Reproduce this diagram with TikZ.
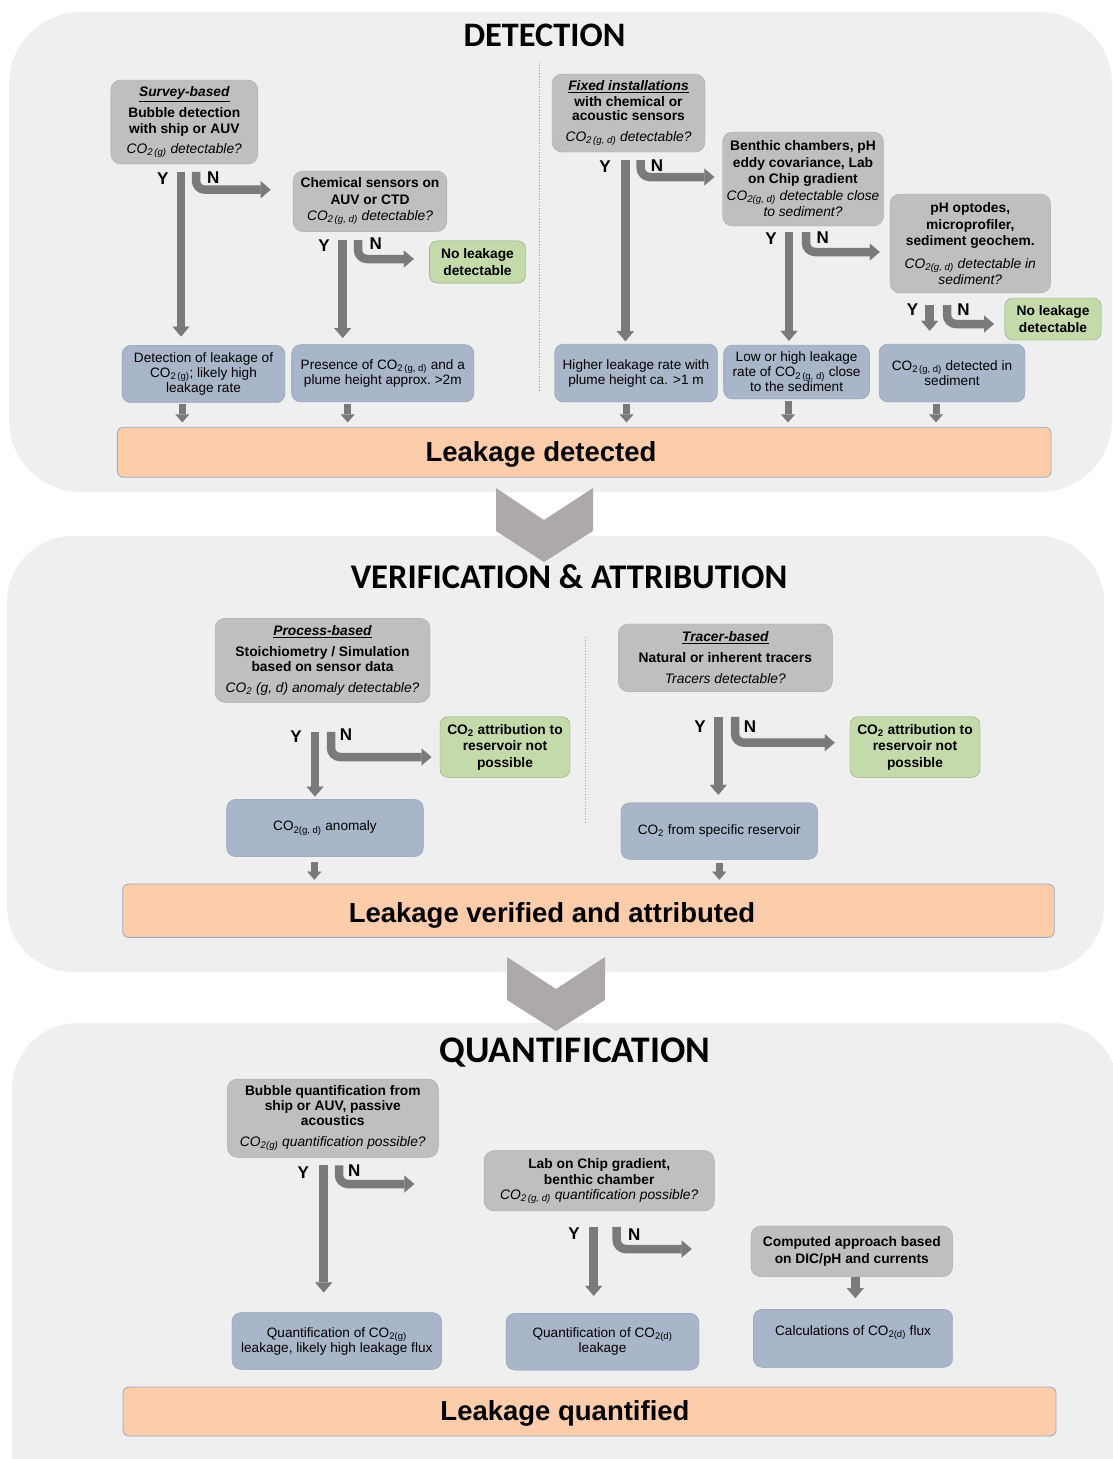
\documentclass[tikz,border=0pt]{standalone}
\usepackage{fontspec}
\setmainfont{Liberation Sans}
\newfontfamily\titlefont{Carlito}
\usetikzlibrary{arrows.meta}
\usetikzlibrary{calc}
\usetikzlibrary{positioning}

\definecolor{panelgray}{HTML}{EFEFEF}
\definecolor{askfill}{HTML}{BFBFBF}
\definecolor{askline}{HTML}{ABABAB}
\definecolor{resfill}{HTML}{A9B6C9}
\definecolor{resline}{HTML}{8D9DB3}
\definecolor{nofill}{HTML}{C4DAAB}
\definecolor{noline}{HTML}{8BA572}
\definecolor{endfill}{HTML}{FDCCAA}
\definecolor{endline}{HTML}{9AAAC0}
\definecolor{arrowgray}{HTML}{7A7A7A}
\definecolor{chevgray}{HTML}{AEA9A9}
\definecolor{dotgray}{HTML}{9A9A9A}

\newcommand{\cosub}[1]{CO\textsubscript{2\,#1}}
\newcommand{\kind}[1]{\underline{\itshape #1}}
\newcommand{\asktext}[1]{{\mdseries\itshape #1}}

\tikzset{
  ask/.style={draw=askline,fill=askfill,rounded corners=10pt,align=center,inner sep=2pt,
    font=\fontsize{13.8}{15.5}\selectfont\bfseries},
  result/.style={draw=resline,fill=resfill,rounded corners=9pt,align=center,inner sep=2pt,
    font=\fontsize{13.6}{15}\selectfont},
  nolk/.style={draw=noline,fill=nofill,rounded corners=8pt,align=center,inner sep=2pt,
    font=\fontsize{13.8}{16.5}\selectfont\bfseries},
  outcome/.style={draw=endline,fill=endfill,rounded corners=6pt,line width=0.8pt},
  outtext/.style={anchor=base,font=\fontsize{27.5}{30}\selectfont\bfseries},
  heading/.style={font=\titlefont\fontsize{#1}{36}\selectfont\bfseries},
  yn/.style={font=\fontsize{17}{17}\selectfont\bfseries},
  yesarrow/.style={draw=arrowgray,line width=8.5pt,
    -{Triangle[length=10pt,width=17pt,line width=0.01pt]}},
  noarrow/.style={yesarrow,rounded corners=9pt},
  droparrow/.style={draw=arrowgray,line width=7pt,
    -{Triangle[length=8pt,width=14pt,line width=0.01pt]}},
  divider/.style={draw=dotgray,dotted,line width=0.8pt}
}

\begin{document}
\begin{tikzpicture}[x=1pt,y=-1pt]
  \useasboundingbox (0,0) rectangle (1113,1459);

  % stage panels and chevrons
  \fill[panelgray,rounded corners=72pt] (9,12) rectangle (1112,492);
  \fill[panelgray,rounded corners=66pt] (7,536) rectangle (1104,972);
  \fill[panelgray,rounded corners=66pt] (12,1023) rectangle (1118,1540);
  \fill[chevgray] (496,488) -- (544,520) -- (593,488) -- (593,531) -- (544,562) -- (496,531) -- cycle;
  \fill[chevgray] (507,957) -- (556,989) -- (605,957) -- (605,1000) -- (556,1031) -- (507,1000) -- cycle;

  \node[heading=34.3] (detect) at (544.5,35) {DETECTION};
  \node[heading=34.6] (verify) at (569,577) {VERIFICATION \& ATTRIBUTION};
  \node[heading=37.5] (quantify) at (575,1053) {QUANTIFICATION};

  \draw[divider] (539,62) -- (539,391);
  \draw[divider] (585,637) -- (585,822);

  % detection
  \node[ask,minimum width=147pt,minimum height=84pt] (survey) at (184.3,122)
    {\kind{Survey-based}\\[5.5pt] Bubble detection\\ with ship or AUV\\[4.5pt]
     \asktext{\cosub{(g)} detectable?}};
  \node[ask,minimum width=153.7pt,minimum height=60.7pt] (chem) at (370,201.3)
    {Chemical sensors on\\[1.5pt] AUV or CTD\\[0.5pt] \asktext{\cosub{(g, d)} detectable?}};
  \node[nolk,minimum width=96.4pt,minimum height=42.3pt] (none1) at (477.5,262)
    {No leakage\\ detectable};
  \node[result,minimum width=163pt,minimum height=57.4pt] (det1) at (203.5,374)
    {Detection of leakage of\\ \cosub{(g)}; likely high\\ leakage rate};
  \node[result,minimum width=182.3pt,minimum height=57.3pt] (det2) at (382.8,373.3)
    {Presence of \cosub{(g, d)} and a\\ plume height approx.\ >2m};

  \node[ask,minimum width=153pt,minimum height=78pt] (fixed) at (628.5,113)
    {\kind{Fixed installations}\\ with chemical or\\[-1pt] acoustic sensors\\[5pt]
     \asktext{\cosub{(g, d)} detectable?}};
  \node[ask,minimum width=161pt,minimum height=94pt] (benthic) at (803,179)
    {Benthic chambers, pH\\[1pt] eddy covariance, Lab\\[1pt] on Chip gradient\\[1pt]
     \asktext{CO\textsubscript{2(g, d)} detectable close}\\[1pt] \asktext{to sediment?}};
  \node[ask,minimum width=160.7pt,minimum height=99pt] (optode) at (970.3,243.5)
    {pH optodes,\\[2pt] microprofiler,\\[0.5pt] sediment geochem.\\[7pt]
     \asktext{CO\textsubscript{2(g, d)} detectable in}\\[0.5pt] \asktext{sediment?}};
  \node[nolk,minimum width=96.4pt,minimum height=42pt] (none2) at (1053,319)
    {No leakage\\ detectable};
  \node[result,minimum width=163pt,minimum height=58pt] (det3) at (636,373)
    {Higher leakage rate with\\ plume height ca. >1 m};
  \node[result,minimum width=146pt,minimum height=54pt] (det4) at (796.6,372)
    {Low or high leakage\\ rate of \cosub{(g, d)} close\\ to the sediment};
  \node[result,minimum width=146pt,minimum height=58pt] (det5) at (952,373)
    {\cosub{(g, d)} detected in\\ sediment};

  \node[outcome,minimum width=933.7pt,minimum height=50pt] (found) at (584.2,452.3) {};
  \node[outtext] (foundtext) at (541,461.7) {Leakage detected};

  \coordinate (surveyY) at ([xshift=-3.3pt]survey.south);
  \coordinate (surveyN) at ([xshift=11.7pt]survey.south);
  \draw[yesarrow,shorten <=7.7pt,shorten >=8.6pt] (surveyY) -- (surveyY |- det1.north);
  \draw[noarrow,shorten <=7.7pt,shorten >=22.3pt] (surveyN) |- ([yshift=11.6pt]chem.west);
  \node[yn] (surveyy) at (162.7,179) {Y};
  \node[yn] (surveyn) at (213.3,177.3) {N};

  \coordinate (chemY) at ([xshift=-27.3pt]chem.south);
  \coordinate (chemN) at ([xshift=-12pt]chem.south);
  \draw[yesarrow,shorten <=8.3pt,shorten >=6.4pt] (chemY) -- (chemY |- det2.north);
  \draw[noarrow,shorten <=8.3pt,shorten >=15.3pt] (chemN) |- ([yshift=3pt]none1.west);
  \node[yn] (chemy) at (324,246) {Y};
  \node[yn] (chemn) at (375.7,244) {N};

  \coordinate (fixedY) at ([xshift=-3.1pt]fixed.south);
  \coordinate (fixedN) at ([xshift=12.2pt]fixed.south);
  \draw[yesarrow,shorten <=8pt,shorten >=2.6pt] (fixedY) -- (fixedY |- det3.north);
  \draw[noarrow,shorten <=8pt,shorten >=8pt] (fixedN) |- ([yshift=2pt]benthic.west);
  \node[yn] (fixedy) at (605,167) {Y};
  \node[yn] (fixedn) at (657,166) {N};

  \coordinate (benthicY) at ([xshift=-14pt]benthic.south);
  \coordinate (benthicN) at ([xshift=3pt]benthic.south);
  \draw[yesarrow,shorten <=6pt,shorten >=4pt] (benthicY) -- (benthicY |- det4.north);
  \draw[noarrow,shorten <=6pt,shorten >=10pt] (benthicN) |- ([yshift=-8.5pt]optode.west);
  \node[yn] (benthicy) at (771,239) {Y};
  \node[yn] (benthicn) at (822.8,237.7) {N};

  \coordinate (optodeY) at ([xshift=-40.6pt]optode.south);
  \coordinate (optodeN) at ([xshift=-23.3pt]optode.south);
  \draw[yesarrow,shorten <=12pt,shorten >=13pt] (optodeY) -- (optodeY |- det5.north);
  \draw[noarrow,shorten <=12pt,shorten >=10.6pt] (optodeN) |- ([yshift=-5pt]none2.west);
  \node[yn] (optodey) at (912.6,310) {Y};
  \node[yn] (optoden) at (963.5,310) {N};

  \foreach \rb/\dx in {det1/-21.2,det2/-35.1,det3/-9.5,det4/-8.6,det5/-16} {
    \coordinate (drop) at ([xshift=\dx pt]\rb.south);
    \draw[droparrow,shorten <=1.5pt,shorten >=4.6pt] (drop) -- (drop |- found.north);
  }

  % verification and attribution
  \node[ask,minimum width=215pt,minimum height=84pt] (process) at (322.5,660.3)
    {\kind{Process-based}\\[5.5pt] Stoichiometry / Simulation\\[-0.5pt] based on sensor data\\[5.5pt]
     \asktext{CO\textsubscript{2} (g, d) anomaly detectable?}};
  \node[nolk,minimum width=130pt,minimum height=60.6pt] (none3) at (505,747)
    {CO\textsubscript{2} attribution to\\ reservoir not\\ possible};
  \node[result,minimum width=196.7pt,minimum height=57.3pt] (anomaly) at (325,828)
    {CO\textsubscript{2(g, d)} anomaly};
  \node[ask,minimum width=214pt,minimum height=67.7pt] (tracer) at (725.3,657.8)
    {\kind{Tracer-based}\\[5pt] Natural or inherent tracers\\[5.5pt] \asktext{Tracers detectable?}};
  \node[nolk,minimum width=130pt,minimum height=60.6pt] (none4) at (915,747)
    {CO\textsubscript{2} attribution to\\ reservoir not\\ possible};
  \node[result,minimum width=196.7pt,minimum height=56.6pt] (source) at (719.3,831)
    {CO\textsubscript{2} from specific reservoir};

  \node[outcome,minimum width=931.6pt,minimum height=53.3pt] (verified) at (588.5,910.7) {};
  \node[outtext] (verifiedtext) at (552,922.8) {Leakage verified and attributed};

  \coordinate (processY) at ([xshift=-7.5pt]process.south);
  \coordinate (processN) at ([xshift=8.5pt]process.south);
  \draw[yesarrow,shorten <=29.4pt,shorten >=2.6pt] (processY) -- (processY |- anomaly.north);
  \draw[noarrow,shorten <=29.4pt,shorten >=8.3pt] (processN) |- ([yshift=-10pt]none3.west);
  \node[yn] (processy) at (296,736.7) {Y};
  \node[yn] (processn) at (346,735) {N};

  \coordinate (tracerY) at ([xshift=-7pt]tracer.south);
  \coordinate (tracerN) at ([xshift=9.7pt]tracer.south);
  \draw[yesarrow,shorten <=25pt,shorten >=7.7pt] (tracerY) -- (tracerY |- source.north);
  \draw[noarrow,shorten <=25pt,shorten >=15pt] (tracerN) |- ([yshift=4.3pt]none4.west);
  \node[yn] (tracery) at (700,726.7) {Y};
  \node[yn] (tracern) at (750,726.7) {N};

  \coordinate (anomalydrop) at ([xshift=-10.7pt]anomaly.south);
  \coordinate (sourcedrop) at (source.south);
  \draw[droparrow,shorten <=5pt,shorten >=4pt] (anomalydrop) -- (anomalydrop |- verified.north);
  \draw[droparrow,shorten <=3pt,shorten >=4pt] (sourcedrop) -- (sourcedrop |- verified.north);

  % quantification
  \node[ask,minimum width=211pt,minimum height=78.3pt] (bubble) at (332.8,1118.2)
    {Bubble quantification from\\[-0.5pt] ship or AUV, passive\\[-0.5pt] acoustics\\[5pt]
     \asktext{CO\textsubscript{2(g)} quantification possible?}};
  \node[ask,minimum width=230.3pt,minimum height=60.3pt] (lab) at (599.2,1180.8)
    {Lab on Chip gradient,\\[0.5pt] benthic chamber\\[-0.5pt]
     \asktext{\cosub{(g, d)} quantification possible?}};
  \node[ask,minimum width=201.7pt,minimum height=50.7pt] (computed) at (851.8,1251.3)
    {Computed approach based\\[1pt] on DIC/pH and currents};
  \node[result,minimum width=209.7pt,minimum height=56.7pt] (qgas) at (336.8,1341)
    {Quantification of CO\textsubscript{2(g)}\\ leakage, likely high leakage flux};
  \node[result,minimum width=193pt,minimum height=56.7pt] (qdis) at (602.5,1341.7)
    {Quantification of CO\textsubscript{2(d)}\\ leakage};
  \node[result,minimum width=199.4pt,minimum height=58pt] (qflux) at (853,1338.3)
    {Calculations of CO\textsubscript{2(d)} flux\\ \mbox{}};

  \node[outcome,minimum width=933pt,minimum height=49pt] (quantified) at (589.5,1411.5) {};
  \node[outtext] (quantifiedtext) at (565,1420) {Leakage quantified};

  \coordinate (bubbleY) at ([xshift=-9.1pt]bubble.south);
  \coordinate (bubbleN) at ([xshift=6.2pt]bubble.south);
  \coordinate (bubbleNend) at (414.3,1184);
  \draw[yesarrow,shorten <=7.7pt,shorten >=20pt] (bubbleY) -- (bubbleY |- qgas.north);
  \draw[noarrow,shorten <=7.7pt] (bubbleN) |- (bubbleNend);
  \node[yn] (bubbley) at (303.3,1172.3) {Y};
  \node[yn] (bubblen) at (354.3,1170.7) {N};

  \coordinate (labY) at ([xshift=-5.5pt]lab.south);
  \coordinate (labN) at ([xshift=17.5pt]lab.south);
  \coordinate (labNend) at (691.7,1249);
  \draw[yesarrow,shorten <=15.7pt,shorten >=17.3pt] (labY) -- (labY |- qdis.north);
  \draw[noarrow,shorten <=15.7pt] (labN) |- (labNend);
  \node[yn] (laby) at (574,1233.3) {Y};
  \node[yn] (labn) at (634.3,1234.3) {N};

  \coordinate (computedY) at ([xshift=3.5pt]computed.south);
  \draw[yesarrow,shorten >=11pt] (computedY) -- (computedY |- qflux.north);
\end{tikzpicture}
\end{document}
